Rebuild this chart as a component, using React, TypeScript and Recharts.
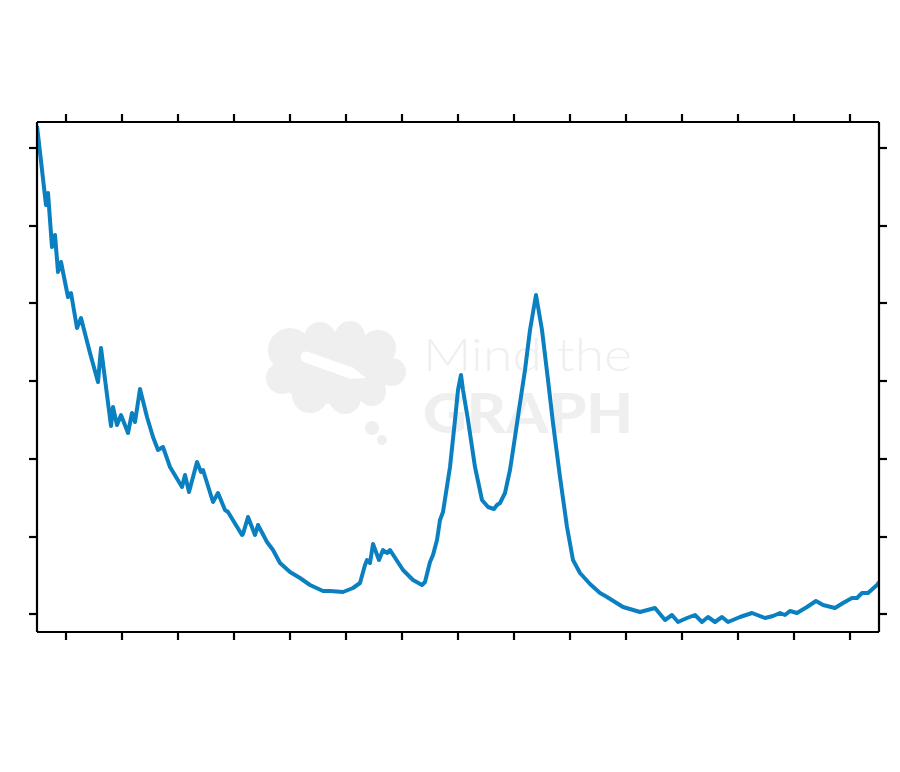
import { Line, LineChart, XAxis, YAxis } from 'recharts';

// position along the axis (arbitrary units)
const position = [
  0, 9, 11, 15, 18, 21, 24, 31, 34, 40, 44, 53, 61, 64, 69, 74, 76, 80, 84, 91,
  95, 98, 103, 110, 116, 121, 126, 133, 145, 148, 152, 160, 164, 166, 176, 181,
  188, 191, 205, 206, 211, 218, 221, 230, 236, 243, 253, 263, 273, 286, 293,
  306, 316, 323, 328, 330, 333, 336, 342, 346, 350, 353, 366, 376, 385, 388,
  393, 396, 400, 403, 406, 413, 418, 421, 424, 426, 431, 438, 445, 451, 457,
  460, 463, 468, 473, 478, 483, 488, 493, 499, 505, 511, 516, 523, 530, 536,
  543, 553, 563, 570, 586, 603, 618, 628, 635, 641, 650, 658, 665, 671, 678,
  685, 691, 703, 715, 728, 736, 743, 748, 753, 760, 770, 779, 786, 798, 806,
  815, 820, 825, 831, 840, 842,
];

// signal intensity at each position
const intensity = [
  506, 427, 439, 385, 397, 360, 370, 335, 339, 304, 314, 279, 250, 284, 245,
  206, 225, 207, 217, 199, 219, 210, 243, 215, 195, 182, 185, 165, 145, 157,
  140, 170, 160, 162, 130, 139, 122, 120, 97, 98, 115, 97, 107, 90, 82, 69, 60,
  54, 47, 41, 41, 40, 44, 49, 67, 72, 69, 88, 72, 82, 79, 82, 62, 52, 47, 50,
  70, 77, 92, 112, 120, 165, 212, 242, 257, 242, 212, 165, 132, 125, 123, 127,
  129, 139, 162, 195, 229, 262, 302, 337, 302, 252, 209, 155, 105, 72, 59, 48,
  39, 35, 25, 20, 24, 12, 17, 10, 14, 17, 10, 15, 10, 15, 10, 15, 19, 14, 16,
  19, 17, 21, 19, 25, 31, 27, 24, 29, 34, 34, 39, 39, 47, 50,
];

const xTicks = [29, 85, 141, 197, 253, 309, 365, 421, 477, 533, 589, 645, 701, 757, 813];
const yTicks = [18, 95, 173, 251, 329, 406, 484];

const data = position.map((x, i) => ({ x, y: intensity[i] }));

const frame = { stroke: '#000', strokeWidth: 2.2 };
const noLabel = () => '';

function Watermark() {
  const fill = '#efefef';
  return (
    <svg
      width={884}
      height={700}
      style={{ position: 'absolute', left: 0, top: 0, pointerEvents: 'none' }}
    >
      <g fill={fill}>
        <ellipse cx={325} cy={360} rx={60} ry={36} />
        <circle cx={282} cy={342} r={22} />
        <circle cx={312} cy={330} r={16} />
        <circle cx={342} cy={328} r={15} />
        <circle cx={370} cy={340} r={18} />
        <circle cx={384} cy={364} r={14} />
        <circle cx={274} cy={370} r={16} />
        <circle cx={302} cy={387} r={18} />
        <circle cx={337} cy={390} r={16} />
        <circle cx={364} cy={384} r={14} />
        <circle cx={364} cy={420} r={7} />
        <circle cx={374} cy={432} r={5} />
      </g>
      <line x1={298} y1={349} x2={340} y2={364} stroke="#fff" strokeWidth={11} strokeLinecap="round" />
      <polygon points="343,358 358,370 340,371" fill="#fff" />
      <text
        x={415}
        y={363}
        fontFamily="Lato, 'Open Sans', sans-serif"
        fontWeight={300}
        fontSize={46}
        fill={fill}
        textLength={209}
        lengthAdjust="spacingAndGlyphs"
      >
        Mind the
      </text>
      <text
        x={415}
        y={425}
        fontFamily="Lato, 'Open Sans', sans-serif"
        fontWeight={900}
        fontSize={56}
        fill={fill}
        textLength={210}
        lengthAdjust="spacingAndGlyphs"
      >
        GRAPH
      </text>
    </svg>
  );
}

export default function App() {
  return (
    <div style={{ position: 'relative', width: 884, height: 700 }}>
      <Watermark />
      <LineChart
        width={884}
        height={700}
        data={data}
        margin={{ top: 106, left: 21, right: 5, bottom: 68 }}
      >
        <XAxis
          xAxisId="bottom"
          dataKey="x"
          type="number"
          domain={[0, 842]}
          ticks={xTicks}
          interval={0}
          orientation="bottom"
          height={8}
          tickSize={8}
          tickFormatter={noLabel}
          axisLine={frame}
          tickLine={frame}
          allowDataOverflow
        />
        <XAxis
          xAxisId="top"
          dataKey="x"
          type="number"
          domain={[0, 842]}
          ticks={xTicks}
          interval={0}
          orientation="top"
          height={8}
          tickSize={8}
          tickFormatter={noLabel}
          axisLine={frame}
          tickLine={frame}
          allowDataOverflow
        />
        <YAxis
          yAxisId="left"
          type="number"
          domain={[0, 510]}
          ticks={yTicks}
          interval={0}
          orientation="left"
          width={8}
          tickSize={8}
          tickFormatter={noLabel}
          axisLine={frame}
          tickLine={frame}
          allowDataOverflow
        />
        <YAxis
          yAxisId="right"
          type="number"
          domain={[0, 510]}
          ticks={yTicks}
          interval={0}
          orientation="right"
          width={8}
          tickSize={8}
          tickFormatter={noLabel}
          axisLine={frame}
          tickLine={frame}
          allowDataOverflow
        />
        <Line
          xAxisId="bottom"
          yAxisId="left"
          type="linear"
          dataKey="y"
          stroke="#0A80C0"
          strokeWidth={4}
          strokeLinejoin="round"
          dot={false}
          isAnimationActive={false}
        />
      </LineChart>
    </div>
  );
}
